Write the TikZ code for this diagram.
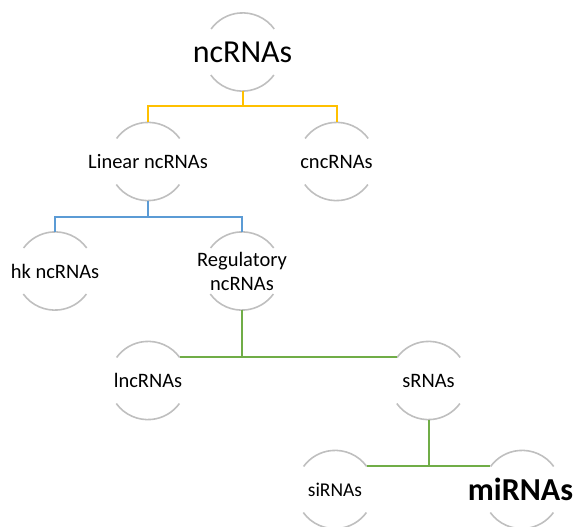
\documentclass[tikz,border=0pt]{standalone}
\usepackage{fontspec}
\setmainfont{Carlito}
\definecolor{arcgrey}{HTML}{BFBFBF}
\definecolor{yel}{HTML}{FFC000}
\definecolor{blu}{HTML}{5B9BD5}
\definecolor{grn}{HTML}{70AD47}
\begin{document}
\begin{tikzpicture}[x=1pt,y=1pt,
  ring/.style={circle,minimum size=78pt,inner sep=0pt,draw=none},
  lab/.style={inner sep=0pt,font=\fontsize{20.5}{24}\selectfont,align=center},
  arcline/.style={draw=arcgrey,line width=1.6pt},
  conn/.style={line width=2pt}]
\useasboundingbox (0,0) rectangle (579,-527);
% rings
\node[ring] (nc)  at (242.5,-52) {};
\node[ring] (lin) at (148,-161.5) {};
\node[ring] (cnc) at (336.5,-161.5) {};
\node[ring] (hk)  at (55,-271) {};
\node[ring] (reg) at (242,-271) {};
\node[ring] (lnc) at (148,-380.5) {};
\node[ring] (sr)  at (428.5,-380.5) {};
\node[ring] (si)  at (335,-489.5) {};
\node[ring] (mi)  at (522,-489.5) {};
% labels
\node[lab,font=\fontsize{32}{36}\selectfont] (nct) at (nc) {ncRNAs};
\node[lab] (lint) at (lin) {Linear ncRNAs};
\node[lab] (cnct) at (cnc) {cncRNAs};
\node[lab] (hkt)  at (hk) {hk ncRNAs};
\node[lab] (regt) at (reg) {Regulatory\\ncRNAs};
\node[lab] (lnct) at (lnc) {lncRNAs};
\node[lab] (srt)  at (sr) {sRNAs};
\node[lab,font=\fontsize{19.5}{24}\selectfont] (sit) at (si) {siRNAs};
\node[lab,font=\fontsize{32}{36}\selectfont\bfseries] (mit) at (520.5,-489.5) {miRNAs};
% arcs
\foreach \n in {nc,lin,cnc,hk,reg,lnc,sr,si,mi}{
  \draw[arcline] (\n.36) arc[start angle=36,end angle=144,radius=39pt];
  \draw[arcline] (\n.216) arc[start angle=216,end angle=324,radius=39pt];
}
% connectors
\draw[conn,yel] (nc.south) -- (nc.south |- 0,-107);
\draw[conn,yel] (lin.north) -- ++(0,16) -| (cnc.north);
\draw[conn,blu] (lin.south) -- (lin.south |- 0,-217);
\draw[conn,blu] (hk.north) -- ++(0,15) -| (reg.north);
\draw[conn,grn] (lnc.36) -- (sr.144);
\draw[conn,grn] (reg.south) -- (reg.south |- lnc.36);
\draw[conn,grn] (si.36) -- (mi.144);
\draw[conn,grn] (sr.south) -- (sr.south |- si.36);
\end{tikzpicture}
\end{document}
